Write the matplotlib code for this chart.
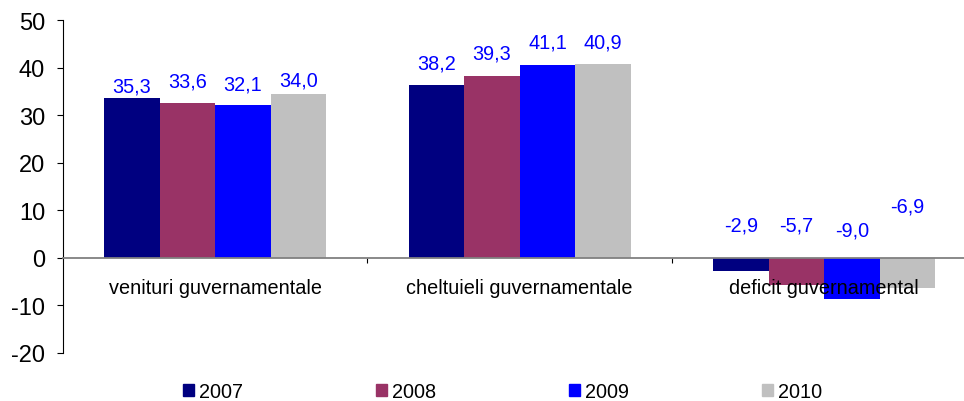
import numpy as np
import matplotlib.pyplot as plt
from matplotlib.patches import Patch

plt.rcParams['font.family'] = ['Liberation Sans', 'DejaVu Sans']
plt.rcParams['axes.unicode_minus'] = False

categorii = ['venituri guvernamentale', 'cheltuieli guvernamentale', 'deficit guvernamental']
ani = ['2007', '2008', '2009', '2010']
culori = ['#000080', '#993366', '#0000FF', '#C0C0C0']

# inaltimile barelor
v2007 = [33.5, 36.3, -2.7]
v2008 = [32.5, 38.2, -5.8]
v2009 = [32.1, 40.5, -8.6]
v2010 = [34.4, 40.7, -6.3]
valori = [v2007, v2008, v2009, v2010]

# etichetele afisate (nu coincid cu barele)
et2007 = ['35,3', '38,2', '-2,9']
et2008 = ['33,6', '39,3', '-5,7']
et2009 = ['32,1', '41,1', '-9,0']
et2010 = ['34,0', '40,9', '-6,9']
etichete = [et2007, et2008, et2009, et2010]
y_et = [[36.1, 40.9, 7.0], [37.1, 43.0, 7.0], [36.5, 45.4, 5.9], [37.3, 45.4, 10.8]]

fig = plt.figure(figsize=(9.64, 4.02), dpi=100)
ax = fig.add_axes([63/964, 48/402, 901/964, 333/402])

w = 0.1825
x = np.arange(len(categorii))
for k in range(4):
    xs = x + (k - 1.5) * w
    ax.bar(xs, valori[k], width=w, color=culori[k], zorder=2)
    for i in range(len(categorii)):
        ax.text(xs[i], y_et[k][i], etichete[k][i], color='#0000FF', fontsize=14.3,
                ha='center', va='center')

for i, c in enumerate(categorii):
    ax.text(i, -6.3, c, ha='center', va='center', fontsize=14.3, color='black')

ax.set_ylim(-20, 50)
ax.set_xlim(-0.5, -0.5 + 901/304.5)
ax.set_yticks(range(-20, 51, 10))
ax.tick_params(axis='y', labelsize=17, length=4.3, width=0.8, pad=8.6, colors='black')
ax.set_xticks([0.5, 1.5])
ax.set_xticklabels([])
ax.tick_params(axis='x', length=3.5, width=0.8, color='black', direction='out')

ax.spines['top'].set_visible(False)
ax.spines['right'].set_visible(False)
ax.spines['bottom'].set_position(('data', 0))
ax.spines['bottom'].set_color('#808080')
ax.spines['bottom'].set_linewidth(1.3)
ax.spines['bottom'].set_zorder(3)
ax.spines['left'].set_color('black')
ax.spines['left'].set_linewidth(0.8)

handles = [Patch(color=culori[k], label=ani[k]) for k in range(4)]
fig.legend(handles=handles, loc='center left', bbox_to_anchor=(183/964, 1 - 393/402),
           ncol=4, frameon=False, fontsize=14.3, handlelength=0.55, handleheight=0.55,
           handletextpad=0.25, columnspacing=6.7, borderpad=0, borderaxespad=0)

fig.savefig('out.png', dpi=100)
